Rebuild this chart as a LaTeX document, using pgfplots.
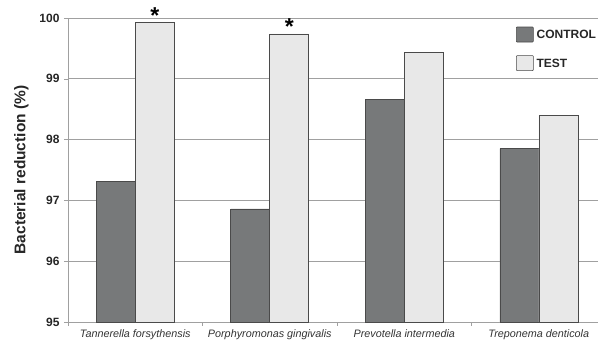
\documentclass[border=0pt]{standalone}
\usepackage{pgfplots}
\pgfplotsset{compat=1.18}
\usepackage{fontspec}
\setmainfont{Liberation Sans}
\definecolor{ctrl}{HTML}{77797A}
\definecolor{tst}{HTML}{E8E8E8}
\definecolor{edge}{HTML}{4A4A4A}
\definecolor{gridc}{HTML}{A0A0A0}
\begin{document}
\begin{tikzpicture}
\useasboundingbox (-68pt,-23pt) rectangle (530pt,322pt);
\begin{axis}[
  at={(0,0)}, anchor=south west,
  scale only axis, width=530pt, height=304pt,
  ybar=0pt, bar width=39pt,
  xmin=-0.5, xmax=3.44, ymin=95, ymax=100,
  axis x line*=bottom, axis y line*=left,
  axis line style={gridc, line width=0.6pt, -},
  ytick={95,96,97,98,99,100},
  ymajorgrids, grid style={gridc, line width=0.7pt},
  yticklabel style={font=\bfseries\fontsize{12}{14}\selectfont, xshift=-1pt, text=black!85},
  /pgf/number format/assume math mode=true,
  y tick style={gridc, line width=0.6pt},
  tick align=outside, major tick length=4pt,
  xtick={0,1,2,3},
  xticklabels={Tannerella forsythensis, Porphyromonas gingivalis, Prevotella intermedia, Treponema denticola},
  xticklabel style={font=\itshape\fontsize{10.8}{12}\selectfont, yshift=0pt, text=black!80},
  x tick style={draw=none},
  extra x ticks={-0.5,0.5,1.5,2.5},
  extra x tick labels={},
  extra x tick style={x tick style={gridc, line width=0.6pt, draw=gridc}, grid=none},
  ylabel={\bfseries Bacterial reduction (\%)},
  ylabel style={font=\fontsize{15.5}{17}\selectfont, text=black!85},
  ylabel shift=4pt,
  clip=false,
  legend style={draw=none, fill=none, at={(rel axis cs:0.845,0.972)}, anchor=north west,
    font=\bfseries\fontsize{12}{14}\selectfont, row sep=13pt, inner sep=0pt,
    nodes={inner sep=0pt, text=black!85}},
  legend image code/.code={\draw[#1, rounded corners=0.8pt] (0pt,-7pt) rectangle (17pt,8pt);},
  legend cell align=left,
]
\addplot[fill=ctrl, draw=edge, line width=0.6pt] coordinates {(0,97.31) (1,96.86) (2,98.66) (3,97.85)};
\addplot[fill=tst, draw=edge, line width=0.6pt,
  nodes near coords, point meta=explicit symbolic,
  every node near coord/.append style={font=\bfseries\fontsize{23}{23}\selectfont, black, anchor=base, yshift=-1pt}]
  coordinates {(0,99.93)[*] (1,99.74)[*] (2,99.43)[] (3,98.40)[]};
\legend{\hspace{3pt}CONTROL, \hspace{3pt}TEST}
\end{axis}
\end{tikzpicture}
\end{document}
